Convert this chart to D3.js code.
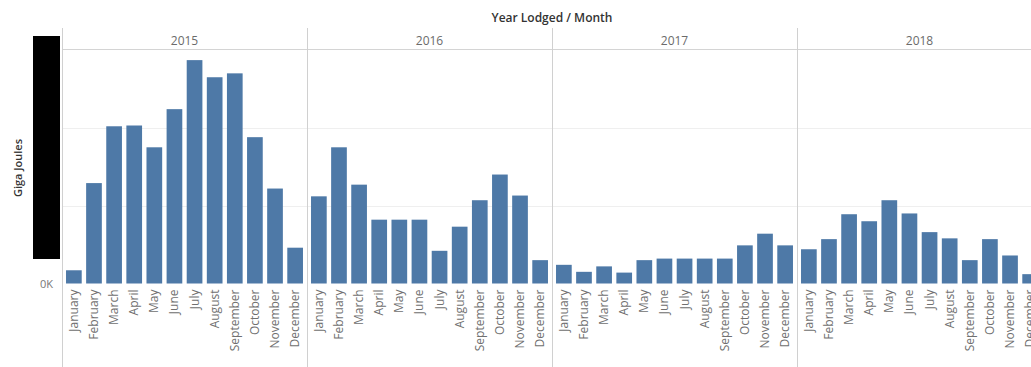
<!DOCTYPE html>
<html><head><meta charset="utf-8">
<script src="https://cdn.jsdelivr.net/npm/d3@7"></script>
<style>body{margin:0;background:#fff;}svg{display:block;font-family:"Open Sans",Lato,sans-serif;}</style>
</head><body><svg id="c" width="1031" height="367"></svg>
<script>
const years = ["2015","2016","2017","2018"];
const months = ["January","February","March","April","May","June","July","August","September","October","November","December"];
const v2015 = [17,129,202,203,175,224,287,265,270,188,122,46];
const v2016 = [112,175,127,82,82,82,42,73,107,140,113,30];
const v2017 = [24,15,22,14,30,32,32,32,32,49,64,49];
const v2018 = [44,57,89,80,107,90,66,58,30,57,36,12];
const yTicks = [0,100,200,300];
const yTickLabels = ["0K"];
const series = [v2015,v2016,v2017,v2018];

const svg = d3.select("#c");
const leftX = 62, panelW = 245, base = 283.5, topY = 50;
const xYear = d3.scaleBand().domain(years).range([leftX, leftX+panelW*4]);
const xMonth = d3.scaleBand().domain(months).range([0, panelW]).paddingInner(0.22).paddingOuter(0.2);
const y = d3.scaleLinear().domain([0,300]).range([base, topY]);

// gridlines
svg.append("g").selectAll("line").data(yTicks.slice(1,3)).join("line")
  .attr("x1", leftX).attr("x2", 1031).attr("y1", d=>Math.round(y(d))+0.5).attr("y2", d=>Math.round(y(d))+0.5)
  .attr("stroke", "#efefef").attr("stroke-width",1);
// header line
svg.append("line").attr("x1",leftX).attr("x2",1031).attr("y1",49.5).attr("y2",49.5).attr("stroke","#d4d4d4");

// panel separators
svg.append("g").selectAll("line").data(years).join("line")
  .attr("x1", d=>Math.round(xYear(d))+0.5).attr("x2", d=>Math.round(xYear(d))+0.5)
  .attr("y1", 28).attr("y2", 367).attr("stroke", "#d0d0d0");

// bars
years.forEach((yr,i)=>{
  const g = svg.append("g").attr("transform",`translate(${xYear(yr)},0)`);
  g.selectAll("rect").data(series[i]).join("rect")
    .attr("x",(d,j)=>xMonth(months[j])).attr("width",xMonth.bandwidth())
    .attr("y",d=>y(d)).attr("height",d=>base-y(d)).attr("fill","#4e79a7");
  g.selectAll("text.m").data(months).join("text").attr("class","m")
    .attr("transform",d=>`translate(${xMonth(d)+xMonth.bandwidth()/2+4},${base+6}) rotate(-90)`)
    .attr("text-anchor","end").attr("font-size",12).attr("fill","#707070").text(d=>d);
  svg.append("text").attr("x",xYear(yr)+panelW/2).attr("y",45).attr("text-anchor","middle")
    .attr("font-size",12).attr("fill","#6b6b6b").text(yr);
});

// y axis label (only 0K is visible in the reference)
const yAxis = d3.axisLeft(y).tickValues([0]).tickFormat((d,i)=>yTickLabels[i]).tickSize(0);
const ga = svg.append("g").attr("transform",`translate(${leftX-6},0)`).call(yAxis);
ga.select(".domain").remove();
ga.selectAll("text").attr("font-size",11).attr("fill","#777").attr("font-family","'Open Sans',sans-serif");

// redaction box
svg.append("rect").attr("x",33).attr("y",36).attr("width",27).attr("height",223).attr("fill","#000");

// titles
svg.append("text").attr("x",leftX+panelW*2).attr("y",22).attr("text-anchor","middle")
  .attr("font-size",12).attr("font-weight",600).attr("fill","#333").text("Year Lodged / Month");
svg.append("text").attr("transform","translate(22,168) rotate(-90)").attr("text-anchor","middle")
  .attr("font-size",11).attr("font-weight",600).attr("fill","#333").text("Giga Joules");
</script></body></html>
